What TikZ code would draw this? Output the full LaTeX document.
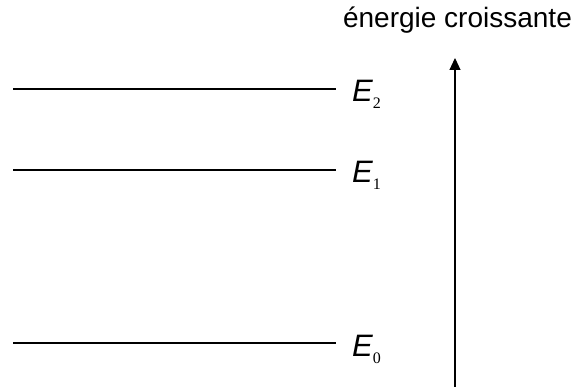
\documentclass[tikz,border=0pt]{standalone}
\usepackage{fontspec}
\setmainfont{Liberation Sans}
\newfontfamily\subfont{Liberation Serif}
\usetikzlibrary{positioning, arrows.meta}

\begin{document}
\begin{tikzpicture}[x=1pt, y=-1pt,
    level/.style={line width=1.5pt},
    axe/.style={line width=1.2pt, -{Triangle[length=12pt, width=11pt]}},
    lab/.style={anchor=base west, inner sep=0pt}]
\useasboundingbox (0,0) rectangle (583,387);

% Energy levels
\foreach \n/\y in {2/89, 1/170, 0/343} {
    \coordinate (g\n) at (13,\y);
    \coordinate (d\n) at (336,\y);
    \draw[level] (g\n) -- (d\n);
    % Level name
    \node[lab] (e\n) at (352,\y+13) {{\fontsize{31}{31}\selectfont\itshape E}\raisebox{-7pt}{\subfont\fontsize{16}{16}\selectfont \n}};
}

% Energy axis
\coordinate (bas) at (455,387);
\coordinate (haut) at (455,58);
\draw[axe] (bas) -- (haut);
\node[anchor=base, inner sep=0pt, font=\fontsize{28}{28}\selectfont] (titre) at (457.5,28) {énergie croissante};

\end{tikzpicture}
\end{document}
